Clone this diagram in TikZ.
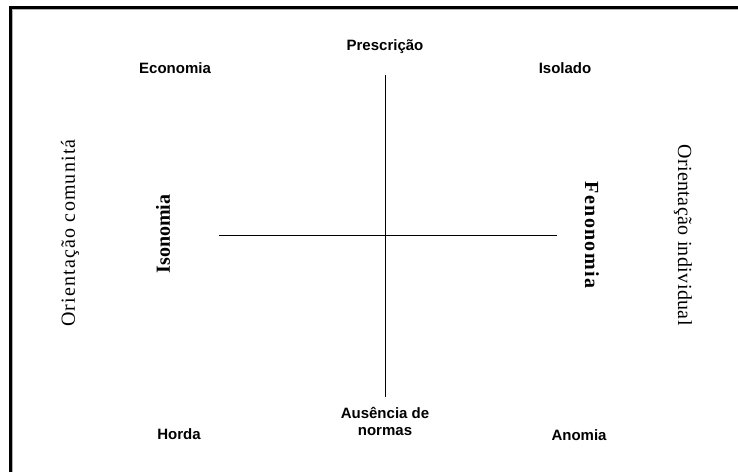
\documentclass[tikz,border=0pt]{standalone}
\usepackage{fontspec}
\setmainfont{Liberation Serif}
\setsansfont{Liberation Sans}
\newfontfamily\sidefontA[LetterSpace=6]{Liberation Serif}
\newfontfamily\sidefontB[LetterSpace=2]{Liberation Serif}
\newfontfamily\fenofont[LetterSpace=7]{Liberation Serif}
\begin{document}
\begin{tikzpicture}[x=1pt,y=-1pt,
  lab/.style={font=\sffamily\bfseries\fontsize{15}{17}\selectfont, inner sep=0pt, align=center},
  axis/.style={line width=0.9pt, black}]
\useasboundingbox (0,0) rectangle (738,472);
\fill[white] (0,0) rectangle (738,472);
% frame
\draw[line width=3pt, black] (10.5,472) -- (10.5,7.5) -- (738,7.5);
\draw[line width=0.8pt, gray!60] (12.6,472) -- (12.6,9.6) -- (738,9.6);
% axes
\coordinate (vt) at (385,75);
\coordinate (vb) at (385,397);
\coordinate (hl) at (219,235);
\coordinate (hr) at (557,235);
\draw[axis] (vt) -- (vb);
\draw[axis] (hl) -- (hr);
% labels
\node[lab] (presc) at (385,47) {Prescrição};
\node[lab] (econ) at (175,68) {Economia};
\node[lab] (isol) at (565,68) {Isolado};
\node[lab] (horda) at (179,434) {Horda};
\node[lab] (anom) at (579,435) {Anomia};
\node[lab] (aus) at (385,421) {Ausência de\\normas};
\node[inner sep=0pt, font=\sidefontA\fontsize{20}{22}\selectfont, rotate=90] (oc) at (70,233) {Orientação comunitá};
\node[inner sep=0pt, font=\sidefontB\fontsize{20}{22}\selectfont, rotate=-90] (oi) at (683,235) {Orientação individual};
\node[inner sep=0pt, font=\rmfamily\bfseries\fontsize{20}{22}\selectfont, rotate=90] (iso) at (163,234) {Isonomia};
\node[inner sep=0pt, font=\fenofont\bfseries\fontsize{20}{22}\selectfont, rotate=-90] (feno) at (592,235) {Fenonomia};
\end{tikzpicture}
\end{document}
